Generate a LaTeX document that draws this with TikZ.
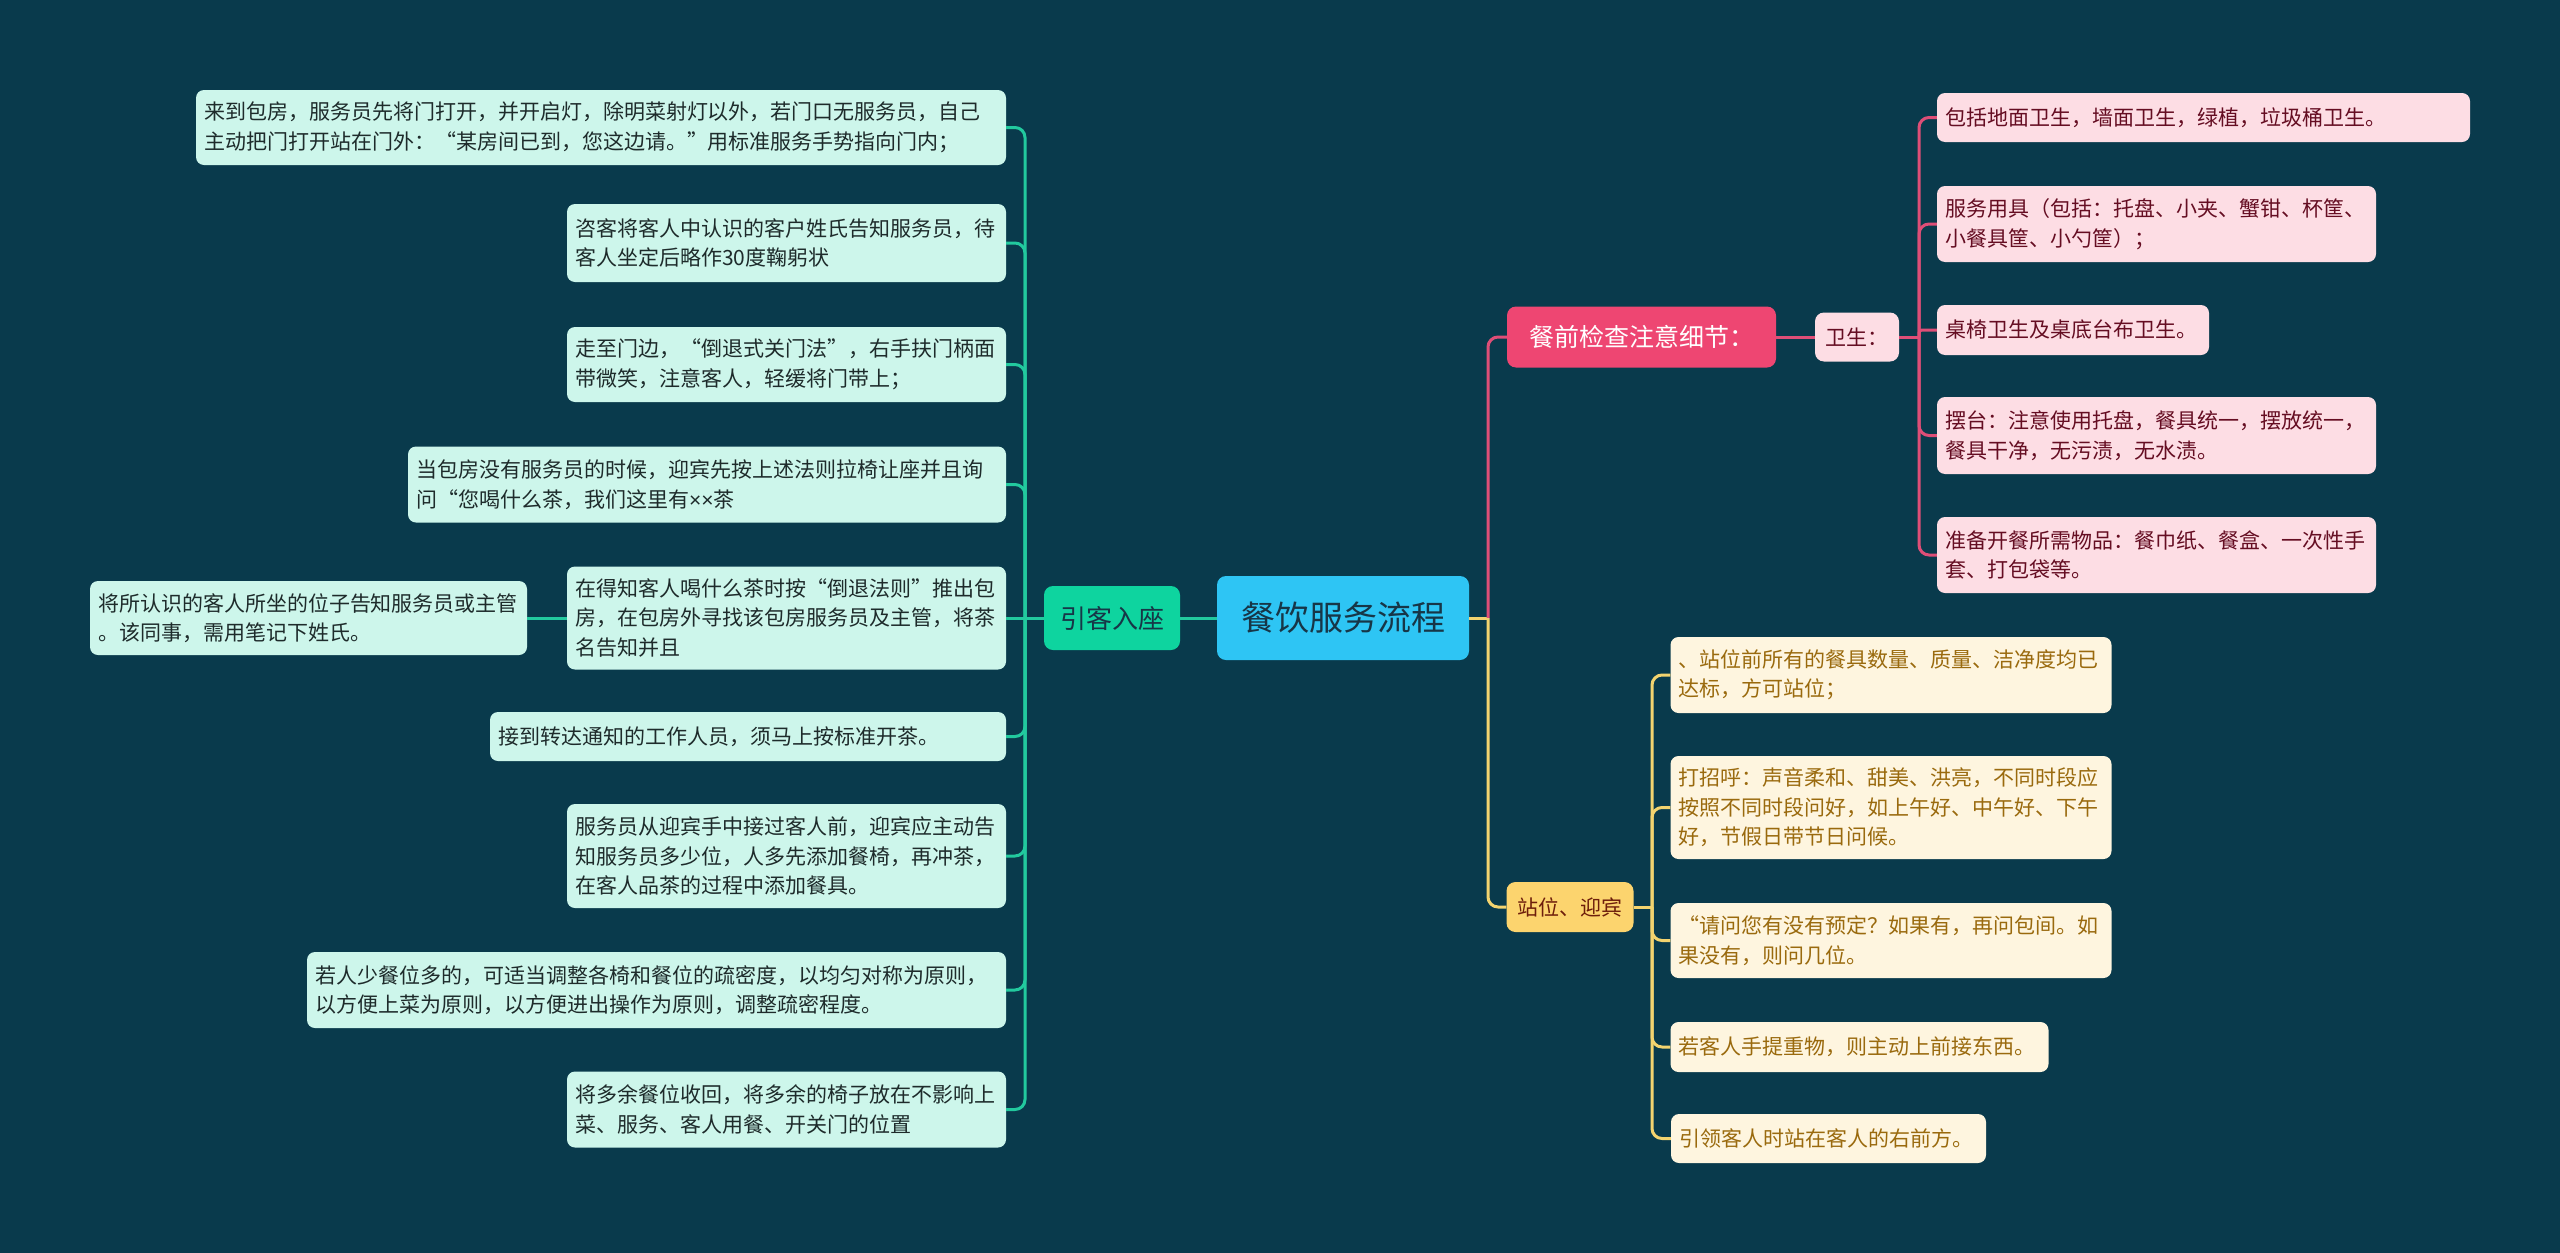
\documentclass[tikz,border=0pt]{standalone}
\usepackage{fontspec}
\setmainfont{Noto Sans CJK SC}
\newfontfamily\latinfont{Liberation Sans}
\definecolor{bg}{HTML}{093A4C}
\definecolor{gfill}{HTML}{CDF6EB}
\definecolor{gline}{HTML}{22C99E}
\definecolor{gnode}{HTML}{0ED49F}
\definecolor{gtext}{HTML}{1E2B2B}
\definecolor{cfill}{HTML}{2EC5F4}
\definecolor{ctext}{HTML}{173647}
\definecolor{pnode}{HTML}{EE4672}
\definecolor{pfill}{HTML}{FDDDE4}
\definecolor{pline}{HTML}{DE4E77}
\definecolor{ptext}{HTML}{650D22}
\definecolor{ynode}{HTML}{FCD46E}
\definecolor{yfill}{HTML}{FEF5DF}
\definecolor{yline}{HTML}{F3D36F}
\definecolor{ytext}{HTML}{9A6A0E}
\definecolor{yntext}{HTML}{6E1E0B}
\tikzset{
  leaf/.style={rounded corners=8pt, align=left, inner xsep=8pt, inner ysep=0pt,
    font=\fontsize{21}{29.5}\selectfont},
  gleaf/.style={leaf, fill=gfill, text=gtext},
  pleaf/.style={leaf, fill=pfill, text=ptext},
  yleaf/.style={leaf, fill=yfill, text=ytext},
  mid/.style={rounded corners=9pt, align=center, inner sep=0pt},
  gcon/.style={draw=gline, line width=3pt, rounded corners=10pt},
  pcon/.style={draw=pline, line width=3pt, rounded corners=10pt},
  ycon/.style={draw=yline, line width=3pt, rounded corners=10pt},
}
\begin{document}
\begin{tikzpicture}[x=1pt,y=-1pt]
\fill[bg] (0,0) rectangle (2560,1253);
\useasboundingbox (0,0) rectangle (2560,1253);

% centre
\node[mid, fill=cfill, text=ctext, minimum width=252pt, minimum height=84pt,
  font=\fontsize{34}{40}\selectfont] (c) at (1343,618) {餐饮服务流程};

% left branch
\node[mid, fill=gnode, text=ctext, minimum width=136pt, minimum height=64pt,
  font=\fontsize{26}{30}\selectfont] (yk) at (1112,618) {引客入座};
\coordinate (lsp) at (1025,618);

\node[gleaf, text width=794pt, minimum height=75pt] (l1) at (601,127.5)
  {来到包房，服务员先将门打开，并开启灯，除明菜射灯以外，若门口无服务员，自己\\主动把门打开站在门外：“某房间已到，您这边请。”用标准服务手势指向门内；};
\node[gleaf, text width=423pt, minimum height=78pt] (l2) at (786.5,243)
  {咨客将客人中认识的客户姓氏告知服务员，待\\客人坐定后略作30度鞠躬状};
\node[gleaf, text width=423pt, minimum height=75pt] (l3) at (786.5,364.5)
  {走至门边，“倒退式关门法”，右手扶门柄面\\带微笑，注意客人，轻缓将门带上；};
\node[gleaf, text width=582pt, minimum height=76pt] (l4) at (707,484.5)
  {当包房没有服务员的时候，迎宾先按上述法则拉椅让座并且询\\问“您喝什么茶，我们这里有{\latinfont ××}茶};
\node[gleaf, text width=423pt, minimum height=103pt] (l5) at (786.5,618)
  {在得知客人喝什么茶时按“倒退法则”推出包\\房，在包房外寻找该包房服务员及主管，将茶\\名告知并且};
\node[gleaf, text width=421pt, minimum height=74pt] (l5a) at (308.5,618)
  {将所认识的客人所坐的位子告知服务员或主管\\。该同事，需用笔记下姓氏。};
\node[gleaf, text width=500pt, minimum height=49pt] (l6) at (748,736.5)
  {接到转达通知的工作人员，须马上按标准开茶。};
\node[gleaf, text width=423pt, minimum height=104pt] (l7) at (786.5,856)
  {服务员从迎宾手中接过客人前，迎宾应主动告\\知服务员多少位，人多先添加餐椅，再冲茶，\\在客人品茶的过程中添加餐具。};
\node[gleaf, text width=683pt, minimum height=76pt] (l8) at (656.5,990)
  {若人少餐位多的，可适当调整各椅和餐位的疏密度，以均匀对称为原则，\\以方便上菜为原则，以方便进出操作为原则，调整疏密程度。};
\node[gleaf, text width=423pt, minimum height=76pt] (l9) at (786.5,1109.5)
  {将多余餐位收回，将多余的椅子放在不影响上\\菜、服务、客人用餐、开关门的位置};

% right upper branch
\coordinate (rsp) at (1488,618);
\node[mid, fill=pnode, text=white, minimum width=269pt, minimum height=61pt,
  font=\fontsize{25}{30}\selectfont] (cq) at (1641.5,337) {餐前检查注意细节：};
\node[mid, fill=pfill, text=ptext, minimum width=84pt, minimum height=49pt,
  font=\fontsize{21}{25}\selectfont] (ws) at (1857,337) {卫生：};
\coordinate (psp) at (1919,337);
\node[pleaf, text width=517pt, minimum height=49pt] (p1) at (2203.5,117.5)
  {包括地面卫生，墙面卫生，绿植，垃圾桶卫生。};
\node[pleaf, text width=423pt, minimum height=76pt] (p2) at (2156.5,224)
  {服务用具（包括：托盘、小夹、蟹钳、杯筐、\\小餐具筐、小勺筐）；};
\node[pleaf, text width=256pt, minimum height=50pt] (p3) at (2073,330)
  {桌椅卫生及桌底台布卫生。};
\node[pleaf, text width=423pt, minimum height=77pt] (p4) at (2156.5,435.5)
  {摆台：注意使用托盘，餐具统一，摆放统一，\\餐具干净，无污渍，无水渍。};
\node[pleaf, text width=423pt, minimum height=76pt] (p5) at (2156.5,555)
  {准备开餐所需物品：餐巾纸、餐盒、一次性手\\套、打包袋等。};

% right lower branch
\node[mid, fill=ynode, text=yntext, minimum width=127pt, minimum height=50pt,
  font=\fontsize{21}{25}\selectfont] (zw) at (1570,907) {站位、迎宾};
\coordinate (ysp) at (1652,907);
\node[yleaf, text width=425pt, minimum height=76pt] (y1) at (1891,675)
  {、站位前所有的餐具数量、质量、洁净度均已\\达标，方可站位；};
\node[yleaf, text width=425pt, minimum height=103pt] (y2) at (1891,807.5)
  {打招呼：声音柔和、甜美、洪亮，不同时段应\\按照不同时段问好，如上午好、中午好、下午\\好，节假日带节日问候。};
\node[yleaf, text width=425pt, minimum height=75pt] (y3) at (1891,940.5)
  {“请问您有没有预定？如果有，再问包间。如\\果没有，则问几位。};
\node[yleaf, text width=362pt, minimum height=50pt] (y4) at (1859.5,1047)
  {若客人手提重物，则主动上前接东西。};
\node[yleaf, text width=299pt, minimum height=49pt] (y5) at (1828.5,1138.5)
  {引领客人时站在客人的右前方。};

% connectors: left
\draw[gcon] (c.west) -- (yk.east);
\draw[gcon] (yk.west) -- (lsp);
\foreach \n in {l1,l2,l3,l4,l6,l7,l8,l9} {
  \draw[gcon] (lsp) |- (\n.east);
}
\draw[gcon] (lsp) -- (l5.east);
\draw[gcon] (l5.west) -- (l5a.east);

% connectors: right
\draw[ycon] (c.east) -- (rsp);
\draw[pcon] (rsp) |- (cq.west);
\draw[ycon] (rsp) |- (zw.west);
\draw[pcon] (cq.east) -- (ws.west);
\draw[pcon] (ws.east) -- (psp);
\foreach \n in {p1,p2,p4,p5} {
  \draw[pcon] (psp) |- (\n.west);
}
\draw[pcon, rounded corners=3pt] (psp) |- (p3.west);
\draw[ycon] (zw.east) -- (ysp);
\foreach \n in {y1,y2,y3,y4,y5} {
  \draw[ycon] (ysp) |- (\n.west);
}
\end{tikzpicture}
\end{document}
